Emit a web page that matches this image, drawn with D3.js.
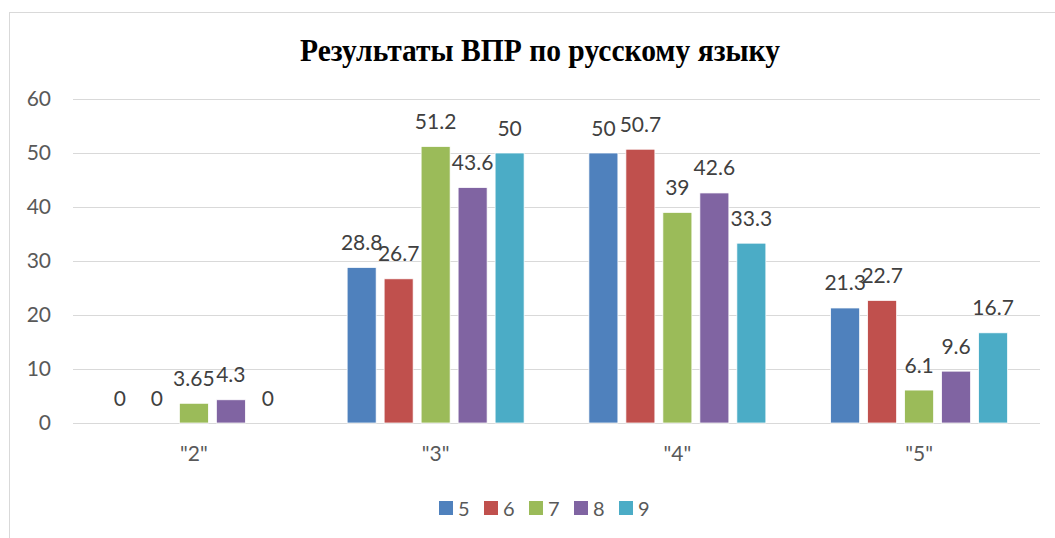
<!DOCTYPE html>
<html>
<head>
<meta charset="utf-8">
<script src="https://cdn.jsdelivr.net/npm/d3@7"></script>
<style>
  body { margin: 0; background: #fff; }
  svg { display: block; }
</style>
</head>
<body>
<div class="chart"></div>
<script>
const title = 'Результаты ВПР по русскому языку';
const categories = ['"2"', '"3"', '"4"', '"5"'];
const series = ['5', '6', '7', '8', '9'];
// values per series, in category order
const s5 = [0, 28.8, 50, 21.3];
const s6 = [0, 26.7, 50.7, 22.7];
const s7 = [3.65, 51.2, 39, 6.1];
const s8 = [4.3, 43.6, 42.6, 9.6];
const s9 = [0, 50, 33.3, 16.7];
const yTicks = [0, 10, 20, 30, 40, 50, 60];
const colors = ['#4f81bd', '#c0504d', '#9bbb59', '#8064a2', '#4bacc6'];

const values = [s5, s6, s7, s8, s9];
const rows = categories.map((c, i) => ({
  cat: c,
  vals: series.map((s, j) => ({ key: s, v: values[j][i], color: colors[j] }))
}));

const width = 1055, height = 538;
const font = 'Lato, "Open Sans", sans-serif';
const left = 73, right = 1040;

const svg = d3.select('.chart').append('svg')
  .attr('width', width)
  .attr('height', height);

// outer chart border
svg.append('rect')
  .attr('x', 9.5).attr('y', 12.5)
  .attr('width', 1060).attr('height', 540)
  .attr('fill', '#fff')
  .attr('stroke', '#d9d9d9');

svg.append('text')
  .attr('x', 540).attr('y', 61)
  .attr('text-anchor', 'middle')
  .attr('font-family', '"Liberation Serif", "Times New Roman", serif')
  .attr('font-weight', 'bold')
  .attr('font-size', 31)
  .attr('textLength', 480)
  .attr('lengthAdjust', 'spacingAndGlyphs')
  .attr('fill', '#000')
  .text(title);

const x0 = d3.scaleBand()
  .domain(categories)
  .range([left, right])
  .paddingInner(0.268)
  .paddingOuter(0.134);

const x1 = d3.scaleBand()
  .domain(series)
  .range([0, x0.bandwidth()])
  .paddingInner(0.216);

const y = d3.scaleLinear()
  .domain([0, 60])
  .range([423, 99]);

// gridlines
svg.append('g')
  .selectAll('line')
  .data(yTicks)
  .join('line')
    .attr('x1', left).attr('x2', right)
    .attr('y1', d => Math.round(y(d)) + 0.5)
    .attr('y2', d => Math.round(y(d)) + 0.5)
    .attr('stroke', '#d9d9d9')
    .attr('stroke-width', 1.2);

const yAxis = d3.axisLeft(y).tickValues(yTicks).tickSize(0).tickPadding(0);
svg.append('g')
  .attr('transform', 'translate(51,0)')
  .call(yAxis)
  .call(g => g.select('.domain').remove())
  .call(g => g.selectAll('text')
    .attr('font-family', font)
    .attr('font-size', 21)
    .attr('fill', '#595959'));

const xAxis = d3.axisBottom(x0).tickSize(0).tickPadding(0);
svg.append('g')
  .attr('transform', 'translate(0,446)')
  .call(xAxis)
  .call(g => g.select('.domain').remove())
  .call(g => g.selectAll('text')
    .attr('font-family', font)
    .attr('font-size', 21)
    .attr('fill', '#595959'));

const groups = svg.append('g')
  .selectAll('g')
  .data(rows)
  .join('g')
    .attr('transform', d => `translate(${x0(d.cat)},0)`);

groups.selectAll('rect')
  .data(d => d.vals)
  .join('rect')
    .attr('x', d => x1(d.key))
    .attr('y', d => y(d.v))
    .attr('width', x1.bandwidth())
    .attr('height', d => y(0) - y(d.v))
    .attr('fill', d => d.color)
    .attr('stroke', '#fff')
    .attr('stroke-width', 0.75);

groups.selectAll('text')
  .data(d => d.vals)
  .join('text')
    .attr('x', d => x1(d.key) + x1.bandwidth() / 2)
    .attr('y', d => y(d.v) - 17.5)
    .attr('text-anchor', 'middle')
    .attr('font-family', font)
    .attr('font-size', 21)
    .attr('fill', '#404040')
    .text(d => d.v);

// legend
const legend = svg.append('g')
  .selectAll('g')
  .data(series)
  .join('g')
    .attr('transform', (d, i) => `translate(${439 + i * 45},501)`);

legend.append('rect')
  .attr('width', 14).attr('height', 14)
  .attr('fill', (d, i) => colors[i]);

legend.append('text')
  .attr('x', 19).attr('y', 14.5)
  .attr('font-family', font)
  .attr('font-size', 20)
  .attr('fill', '#595959')
  .text(d => d);
</script>
</body>
</html>
